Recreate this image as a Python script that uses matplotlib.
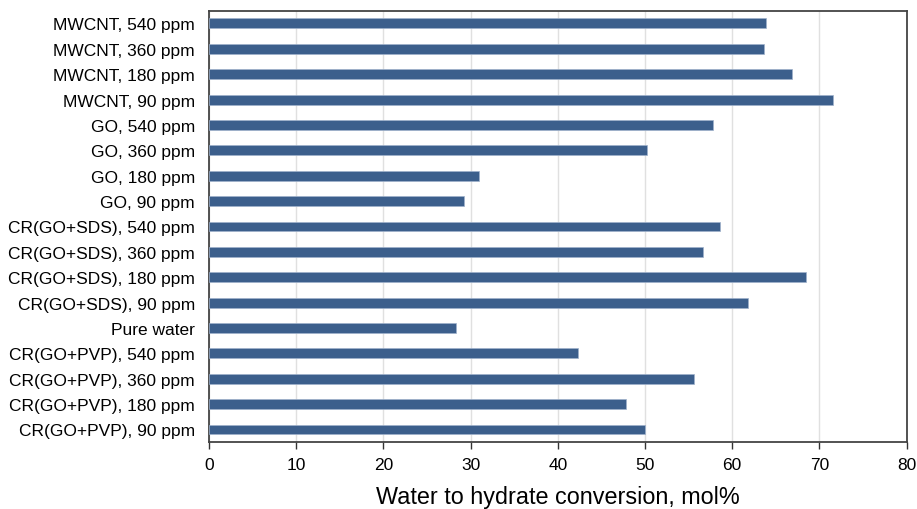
import matplotlib.pyplot as plt

plt.rcParams['font.family'] = ['Liberation Sans', 'DejaVu Sans']

# categories listed bottom to top
categories = [
    "CR(GO+PVP), 90 ppm", "CR(GO+PVP), 180 ppm", "CR(GO+PVP), 360 ppm",
    "CR(GO+PVP), 540 ppm", "Pure water",
    "CR(GO+SDS), 90 ppm", "CR(GO+SDS), 180 ppm", "CR(GO+SDS), 360 ppm",
    "CR(GO+SDS), 540 ppm",
    "GO, 90 ppm", "GO, 180 ppm", "GO, 360 ppm", "GO, 540 ppm",
    "MWCNT, 90 ppm", "MWCNT, 180 ppm", "MWCNT, 360 ppm", "MWCNT, 540 ppm",
]
conversion = [
    50.0, 47.8, 55.6, 42.3, 28.3,
    61.8, 68.5, 56.6, 58.6,
    29.2, 31.0, 50.2, 57.8,
    71.6, 66.9, 63.7, 63.9,
]
x_ticks = [0, 10, 20, 30, 40, 50, 60, 70, 80]

fig = plt.figure(figsize=(9.17, 5.10), dpi=100)
ax = fig.add_axes([0.2279, 0.131, 0.7608, 0.846])

ax.barh(range(len(categories)), conversion, height=0.39, color="#3c5f8c",
        edgecolor="#9fb2cc", linewidth=0.5, zorder=3)

ax.set_xlim(0, 80)
ax.set_ylim(-0.5, len(categories) - 0.5)
ax.set_xticks(x_ticks)
ax.set_yticks(range(len(categories)))
ax.set_yticklabels(categories)
ax.tick_params(axis="y", length=0, labelsize=12.5, pad=10)
ax.tick_params(axis="x", length=5, width=1, labelsize=12.5, pad=6, color="#333333")
ax.xaxis.grid(True, color="#e0e0e0", linewidth=1, zorder=0)
ax.set_axisbelow(True)

for s in ax.spines.values():
    s.set_color("#444444")
    s.set_linewidth(1.3)

ax.set_xlabel("Water to hydrate conversion, mol%", fontsize=16.8, labelpad=9)

fig.savefig("out.png", dpi=100)
